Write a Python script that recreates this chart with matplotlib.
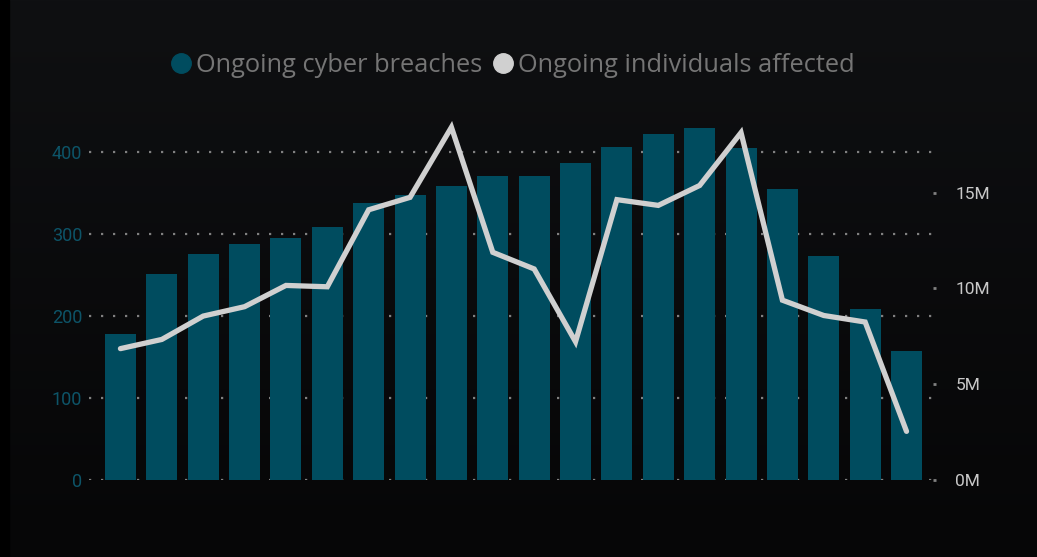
"""Ongoing cyber breaches (bars) vs ongoing individuals affected (line)."""

import numpy as np
import matplotlib
matplotlib.use("Agg")
import matplotlib.pyplot as plt
from matplotlib.lines import Line2D
from matplotlib.ticker import FuncFormatter

# Data
periods = list(range(1, 21))
breaches = [178, 252, 276, 288, 295, 309, 338, 348, 359, 371,
            371, 387, 406, 423, 430, 405, 355, 274, 209, 158]
individuals_m = [6.86, 7.34, 8.56, 9.05, 10.16, 10.09, 14.11, 14.76, 18.42, 11.89,
                 11.02, 7.22, 14.64, 14.34, 15.38, 18.14, 9.39, 8.59, 8.25, 2.54]
left_ticks = [0, 100, 200, 300, 400]
right_ticks = [0, 5, 10, 15]
series_names = ["Ongoing cyber breaches", "Ongoing individuals affected"]

BAR = "#004c5f"
LINE = "#d0d0d0"
GRID = "#808080"


def main():
    W, H = 1037, 557
    fig = plt.figure(figsize=(W / 100, H / 100), dpi=100)

    # background gradient
    bg = fig.add_axes([0, 0, 1, 1], zorder=-10)
    top = np.array([0x0f, 0x10, 0x12]) / 255
    bot = np.array([0x06, 0x06, 0x07]) / 255
    t = np.linspace(0, 1, 256)[:, None]
    grad = top[None, :] * (1 - t) + bot[None, :] * t
    bg.imshow(grad[:, None, :].repeat(2, axis=1), aspect="auto", extent=[0, 1, 0, 1])
    bg.axvspan(0, 9 / W, color="black")
    bg.set_xlim(0, 1)
    bg.set_ylim(0, 1)
    bg.axis("off")

    x0, x1 = 89 / W, 933 / W
    y0, y1 = (H - 480) / H, (H - 97) / H
    ax = fig.add_axes([x0, y0, x1 - x0, y1 - y0])
    ax.patch.set_alpha(0)
    ax2 = ax.twinx()

    xs = np.arange(len(periods))
    ax.bar(xs, breaches, width=0.75, color=BAR, zorder=3)
    for v in left_ticks:
        ax.axhline(v, color=GRID, lw=1.6, dashes=(1.0, 4.4), dash_capstyle="butt", zorder=1)

    ax2.plot(xs, [v * 1e6 for v in individuals_m], color=LINE, lw=3.8,
             solid_capstyle="round", solid_joinstyle="miter", zorder=4)

    ax.set_xlim(-0.76, 19.64)
    ax.set_ylim(0, 467.6)
    ax2.set_ylim(0, 20e6)

    ax.set_xticks([])
    ax.set_yticks(left_ticks)
    ax.tick_params(axis="y", length=0, pad=5, labelsize=13, labelcolor="#0d5468")
    ax2.set_yticks([v * 1e6 for v in right_ticks])
    ax2.yaxis.set_major_formatter(FuncFormatter(lambda v, _: f"{v / 1e6:.0f}M"))
    ax2.tick_params(axis="y", length=2, width=2, direction="out", color=GRID,
                    pad=14, labelsize=12.5, labelcolor="#c8c8c8")
    for a in (ax, ax2):
        for s in a.spines.values():
            s.set_visible(False)
    for lab in ax.get_yticklabels() + ax2.get_yticklabels():
        lab.set_family(["Roboto", "DejaVu Sans"])

    handles = [Line2D([], [], ls="", marker="o", ms=14, color=BAR),
               Line2D([], [], ls="", marker="o", ms=14, color=LINE)]
    leg = fig.legend(handles, series_names, loc="center", bbox_to_anchor=(0.494, 1 - 65 / H),
                     ncol=2, frameon=False, handlelength=0.9, handletextpad=0.15,
                     columnspacing=0.35,
                     prop={"family": ["Open Sans", "DejaVu Sans"], "size": 18.3})
    for txt in leg.get_texts():
        txt.set_color("#757575")

    fig.savefig("out.png", dpi=100)


if __name__ == "__main__":
    main()
